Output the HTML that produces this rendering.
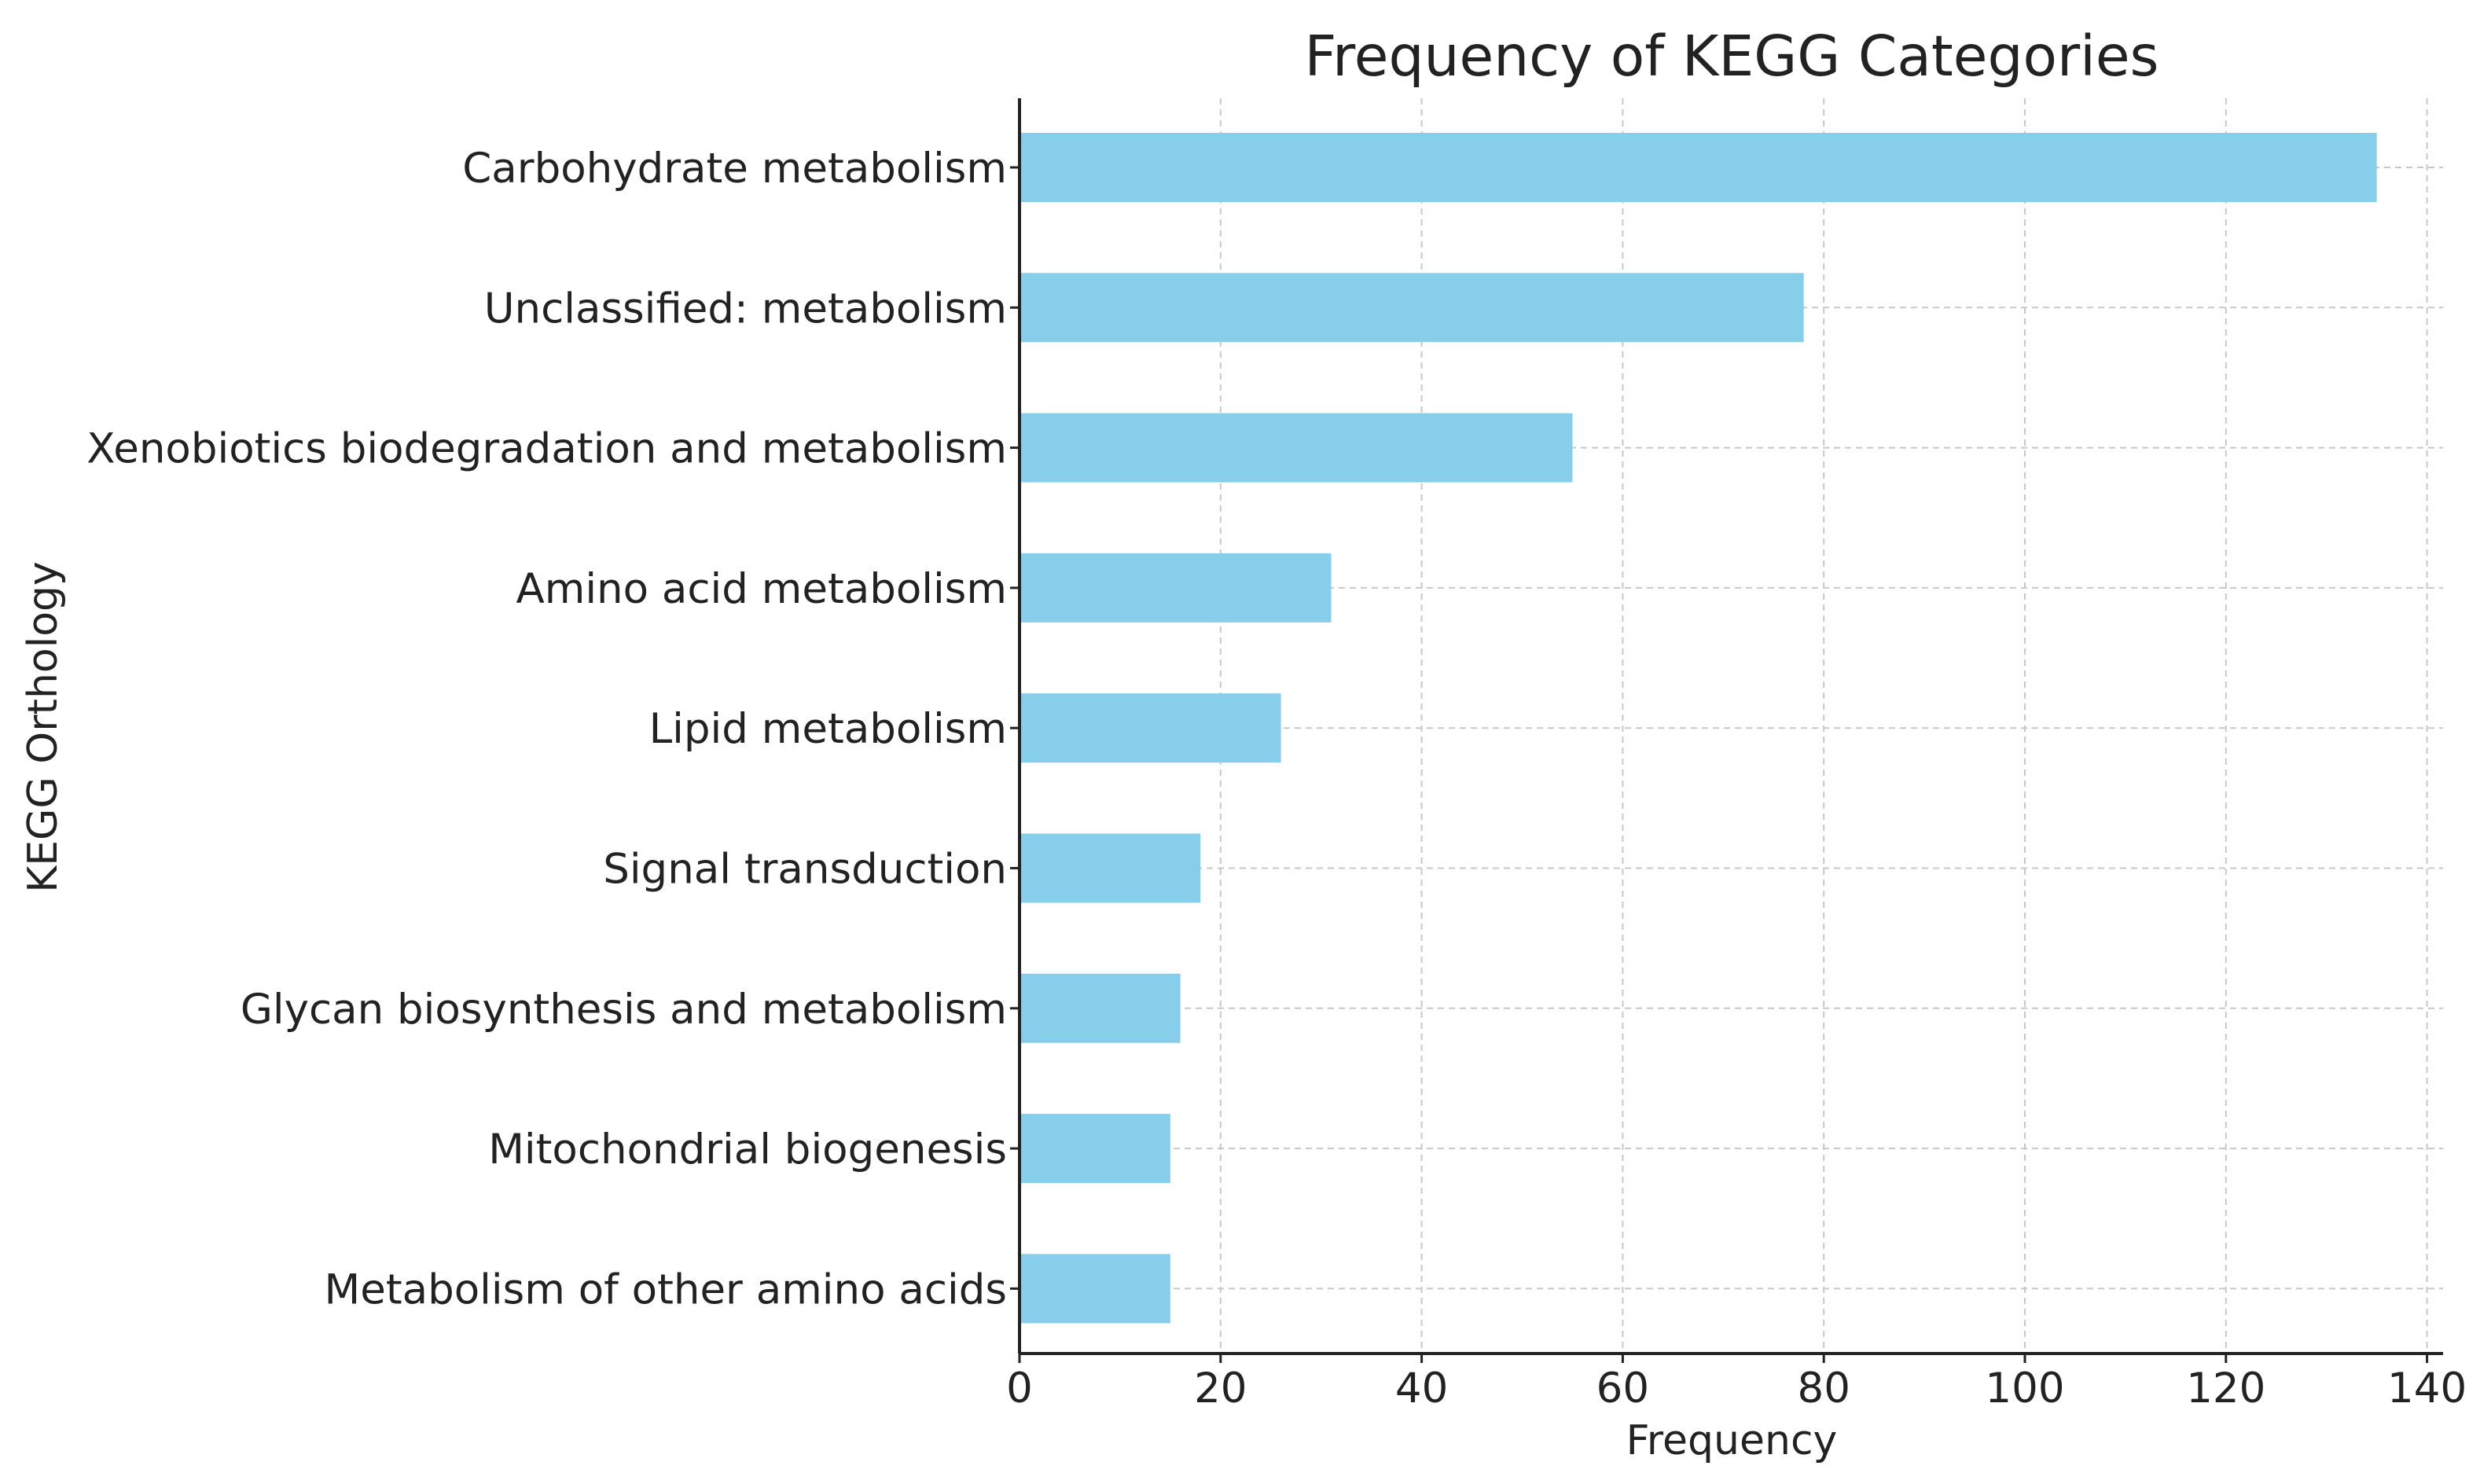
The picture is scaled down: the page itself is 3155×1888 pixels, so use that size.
<!DOCTYPE html>
<html><head><meta charset="utf-8"><style>
html,body{margin:0;padding:0;background:#fff;}
svg text{font-family:"DejaVu Sans","Liberation Sans",sans-serif;fill:#222;}
</style></head><body>
<svg id="chart" width="3155" height="1883" xmlns="http://www.w3.org/2000/svg">
<rect width="3155" height="1883" fill="#fff"/>
<text x="2203" y="96" font-size="71" text-anchor="middle">Frequency of KEGG Categories</text>
<text x="2203" y="1850" font-size="52" text-anchor="middle">Frequency</text>
<text transform="translate(72,925) rotate(-90)" font-size="52" text-anchor="middle">KEGG Orthology</text>
<g id="grid"></g><g id="bars"></g><g id="axes"></g>
</svg>
<script>
const categories=["Carbohydrate metabolism","Unclassified: metabolism","Xenobiotics biodegradation and metabolism","Amino acid metabolism","Lipid metabolism","Signal transduction","Glycan biosynthesis and metabolism","Mitochondrial biogenesis","Metabolism of other amino acids"];
const values=[135,78,55,31,26,18,16,15,15];
const xTicks=[0,20,40,60,80,100,120,140];
const NS="http://www.w3.org/2000/svg";
const x0=1297, pxPerUnit=12.79, yTop=125, yBot=1722, rightEdge=3108;
function xs(v){return x0+v*pxPerUnit;}
function ys(i){return 213+i*178.3;}
const bandH=88;
function mk(tag,attrs,parent){const e=document.createElementNS(NS,tag);for(const k in attrs)e.setAttribute(k,attrs[k]);parent.appendChild(e);return e;}
const grid=document.getElementById('grid'),bars=document.getElementById('bars'),axes=document.getElementById('axes');
xTicks.forEach(t=>{
  const l=mk('line',{x1:xs(t),x2:xs(t),y1:yTop,y2:yBot,stroke:'#c8c8c8','stroke-width':2,'stroke-dasharray':'8,6'},grid);
  
  
  const tk=mk('line',{x1:xs(t),x2:xs(t),y1:yBot,y2:yBot+12,stroke:'#222','stroke-width':3},axes);
  
  
  const tx=mk('text',{x:xs(t),y:yBot+62,'font-size':53,'text-anchor':'middle'},axes);
  tx.textContent=t;
  
  
});
categories.forEach((c,i)=>{
  const g=mk('line',{x1:x0,x2:rightEdge,y1:ys(i),y2:ys(i),stroke:'#c8c8c8','stroke-width':2,'stroke-dasharray':'8,6'},grid);
  
  
  const r=mk('rect',{x:x0,y:ys(i)-bandH/2,width:xs(values[i])-x0,height:bandH,fill:'#87ceeb'},bars);
  
  
  const tk=mk('line',{x1:x0-12,x2:x0,y1:ys(i),y2:ys(i),stroke:'#222','stroke-width':3},axes);
  
  
  const tx=mk('text',{x:x0-16,y:ys(i)+19,'font-size':53,'text-anchor':'end'},axes);
  tx.textContent=c;
  
  
});
const ly=mk('line',{x1:x0,x2:x0,y1:yTop,y2:yBot,stroke:'#222','stroke-width':4},axes);


const lx=mk('line',{x1:x0,x2:rightEdge,y1:yBot,y2:yBot,stroke:'#222','stroke-width':4},axes);


</script>
</body></html>
